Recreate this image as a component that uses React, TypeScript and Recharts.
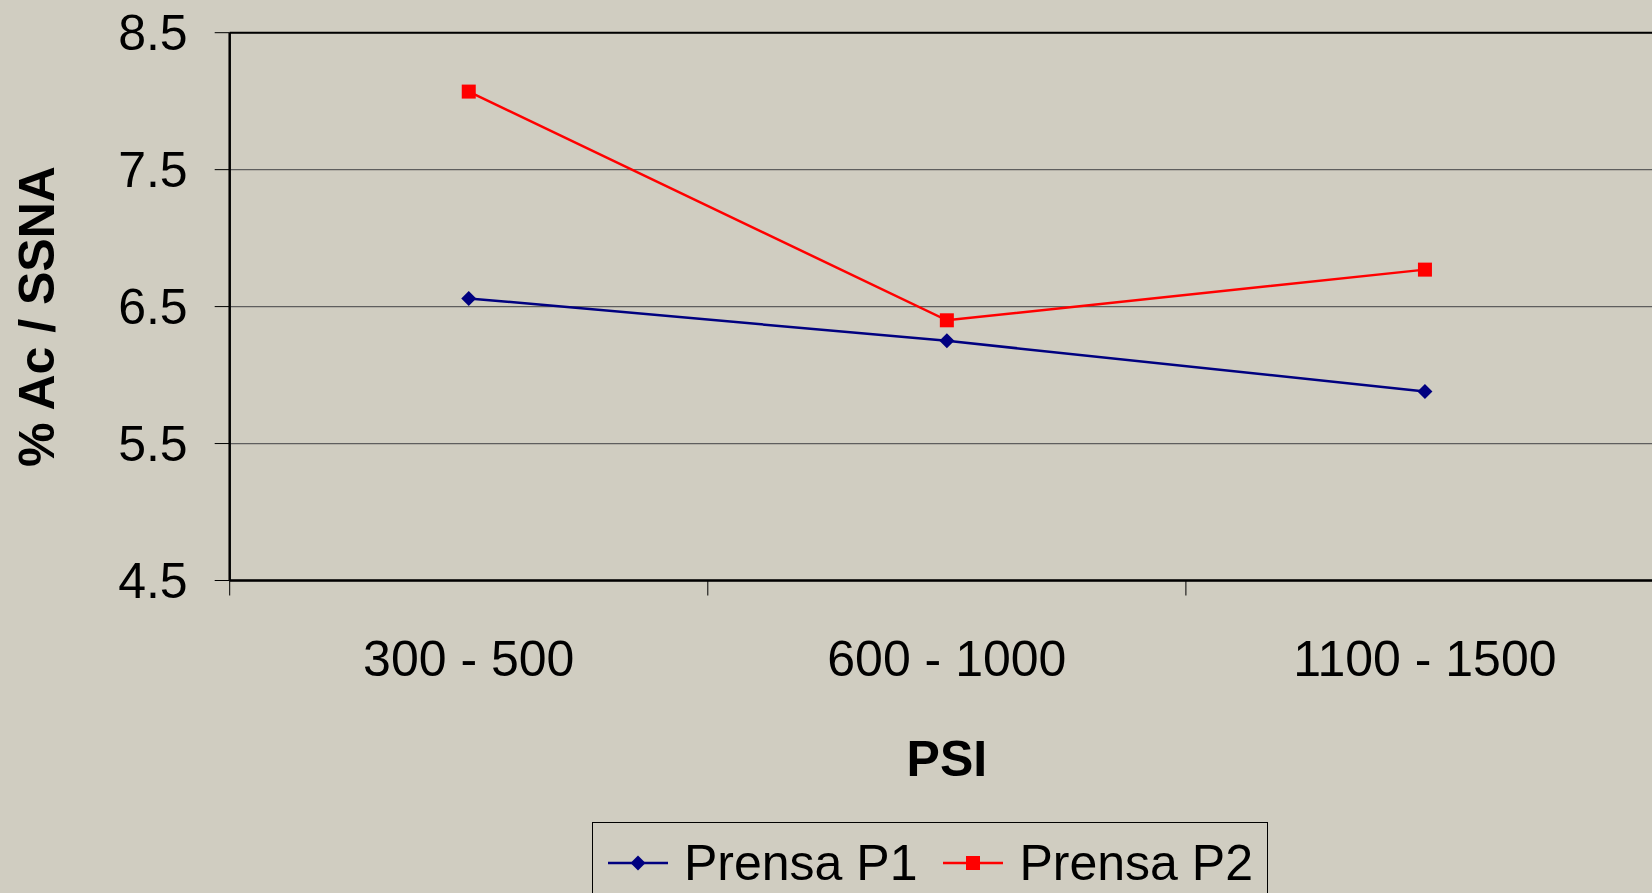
import React from 'react';
import { LineChart, Line, XAxis, YAxis, CartesianGrid, ReferenceLine, Legend, Label } from 'recharts';

const categories = ['300 - 500', '600 - 1000', '1100 - 1500'];
const prensaP1 = [6.56, 6.25, 5.88];
const prensaP2 = [8.07, 6.40, 6.77];
const yTicks = [4.5, 5.5, 6.5, 7.5, 8.5];
const seriesNames = ['Prensa P1', 'Prensa P2'];

const data = categories.map((c, i) => ({ pos: i + 0.5, name: c, p1: prensaP1[i], p2: prensaP2[i] }));
const xTicks: number[] = [];
for (let i = 0; i <= categories.length; i++) {
  xTicks.push(i);
  if (i < categories.length) xTicks.push(i + 0.5);
}

const FONT = '"Liberation Sans", Arial, sans-serif';
const BG = '#D0CDC1';
const NAVY = '#000080';
const RED = '#FF0000';

const Diamond = ({ cx, cy, fill, s = 7.5 }: any) => (
  <path d={`M${cx},${cy - s} L${cx + s},${cy} L${cx},${cy + s} L${cx - s},${cy} Z`} fill={fill} />
);
const Square = ({ cx, cy, fill, s = 7 }: any) => (
  <rect x={cx - s} y={cy - s} width={2 * s} height={2 * s} fill={fill} />
);

const XTick = (props: any) => {
  const { x, y, payload } = props;
  const v = payload.value;
  if (Number.isInteger(v)) {
    return <line x1={x} x2={x} y1={y} y2={y + 15} stroke="#000" strokeWidth={1} />;
  }
  const label = categories[Math.floor(v)];
  return (
    <text x={x} y={y + 60} dy="0.71em" textAnchor="middle" fontSize={50} fontFamily={FONT} fill="#000">
      {label}
    </text>
  );
};

const YLabel = (props: any) => {
  const vb = props.viewBox;
  const cx = vb.x + 37;
  const cy = vb.y + vb.height / 2 + 10;
  return (
    <text x={cx} y={cy} transform={`rotate(-90 ${cx} ${cy})`} textAnchor="middle" dominantBaseline="central"
      fontSize={50} fontWeight="bold" fontFamily={FONT} fill="#000">% Ac / SSNA</text>
  );
};

const XLabel = (props: any) => {
  const vb = props.viewBox;
  const cx = vb.x + vb.width / 2;
  const cy = vb.y + 178;
  return (
    <text x={cx} y={cy} textAnchor="middle" dominantBaseline="central"
      fontSize={50} fontWeight="bold" fontFamily={FONT} fill="#000">PSI</text>
  );
};

const LegendContent = (props: any) => {
  const { payload } = props;
  return (
    <div style={{ border: '1px solid #000', boxSizing: 'border-box', width: 676, height: 100, display: 'flex', paddingLeft: 15, whiteSpace: 'nowrap' }}>
      {(payload || []).map((entry: any, i: number) => (
        <div key={i} style={{ display: 'flex', alignItems: 'center', height: 80, marginRight: 26, flexShrink: 0 }}>
          <svg width={60} height={20} style={{ marginRight: 16, flexShrink: 0 }}>
            <line x1={0} x2={60} y1={10} y2={10} stroke={entry.color} strokeWidth={2.5} />
            {entry.dataKey === 'p1'
              ? <Diamond cx={30} cy={10} fill={entry.color} />
              : <Square cx={30} cy={10} fill={entry.color} />}
          </svg>
          <span style={{ fontFamily: FONT, fontSize: 50, color: '#000', lineHeight: 1, whiteSpace: 'nowrap' }}>{entry.value}</span>
        </div>
      ))}
    </div>
  );
};

export default function App() {
  return (
    <div style={{ position: 'absolute', left: 0, top: 0, width: 1652, height: 893, overflow: 'hidden', background: BG }}>
      <LineChart width={1700} height={893} data={data} margin={{ top: 32.7, right: 36, bottom: 0, left: 0 }}>
        <CartesianGrid horizontal vertical={false} stroke="#5e5e5e" strokeWidth={1.3} />
        <ReferenceLine y={8.5} stroke="#000" strokeWidth={2} />
        <XAxis dataKey="pos" type="number" domain={[0, categories.length]} ticks={xTicks} interval={0}
          tick={<XTick />} tickLine={false} tickSize={0} tickMargin={0} height={312.5}
          axisLine={{ stroke: '#000', strokeWidth: 2.5 }}>
          <Label content={<XLabel />} />
        </XAxis>
        <YAxis type="number" domain={[4.5, 8.5]} ticks={yTicks} interval={0} width={229.7}
          tickFormatter={(v: number) => v.toFixed(1)}
          tick={{ fontSize: 50, fontFamily: FONT, fill: '#000' }}
          tickSize={15} tickMargin={27} tickLine={{ stroke: '#000', strokeWidth: 1 }}
          axisLine={{ stroke: '#000', strokeWidth: 2.5 }}>
          <Label content={<YLabel />} />
        </YAxis>
        <Legend layout="horizontal" verticalAlign="middle" align="center"
          wrapperStyle={{ left: 592, top: 822, width: 676, height: 100 }} content={<LegendContent />} />
        <Line dataKey="p1" name={seriesNames[0]} stroke={NAVY} strokeWidth={2.5} isAnimationActive={false}
          dot={(p: any) => <Diamond key={`d${p.index}`} cx={p.cx} cy={p.cy} fill={NAVY} />} activeDot={false} />
        <Line dataKey="p2" name={seriesNames[1]} stroke={RED} strokeWidth={2.5} isAnimationActive={false}
          dot={(p: any) => <Square key={`s${p.index}`} cx={p.cx} cy={p.cy} fill={RED} />} activeDot={false} />
      </LineChart>
    </div>
  );
}
